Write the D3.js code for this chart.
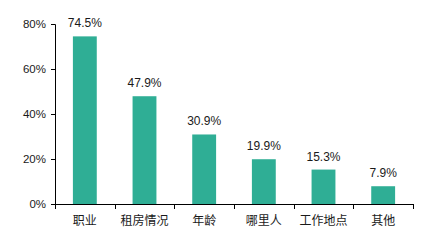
<!DOCTYPE html>
<html>
<head>
<meta charset="utf-8">
<script src="https://cdn.jsdelivr.net/npm/d3@7"></script>
<style>
  body { margin: 0; background: #fff; }
  svg text { font-family: "Liberation Sans", Arial, "Noto Sans CJK SC", sans-serif; fill: #1a1a1a; }
</style>
</head>
<body>
<svg width="446" height="246"></svg>
<script>
var categories = ["职业", "租房情况", "年龄", "哪里人", "工作地点", "其他"];
var values = [74.5, 47.9, 30.9, 19.9, 15.3, 7.9];
var yTicks = [0, 20, 40, 60, 80];

var svg = d3.select("svg");
var plotLeft = 55, plotRight = 413, plotTop = 24, plotBottom = 204;

var x = d3.scaleBand().domain(categories).range([plotLeft, plotRight]);
var y = d3.scaleLinear().domain([0, 80]).range([plotBottom, plotTop]);
var barW = x.bandwidth() * 0.4;

// bars
svg.selectAll("rect.bar")
    .data(values)
    .enter().append("rect")
    .attr("class", "bar")
    .attr("x", function(d, i) { return x(categories[i]) + (x.bandwidth() - barW) / 2; })
    .attr("y", function(d) { return y(d); })
    .attr("width", barW)
    .attr("height", function(d) { return plotBottom - y(d); })
    .style("fill", "#2fae95");

// value labels
svg.selectAll("text.val")
    .data(values)
    .enter().append("text")
    .attr("class", "val")
    .attr("x", function(d, i) { return x(categories[i]) + x.bandwidth() / 2; })
    .attr("y", function(d) { return y(d) - 9; })
    .attr("text-anchor", "middle")
    .style("font-size", "12px")
    .text(function(d) { return d.toFixed(1) + "%"; });

// y axis
var yAxis = d3.axisLeft(y).tickValues(yTicks).tickSize(4).tickPadding(5)
    .tickFormat(function(d) { return d + "%"; });
var gy = svg.append("g").attr("transform", "translate(" + plotLeft + ",0)").call(yAxis);
gy.select(".domain").attr("stroke", "#000");
gy.selectAll(".tick line").attr("stroke", "#000");
gy.selectAll("text").style("font-size", "11.5px").attr("fill", "#1a1a1a");

// x axis
var xTickPos = categories.map(function(c) { return x(c); }).concat([plotRight]);
var gx = svg.append("g");
gx.append("line")
    .attr("x1", plotLeft).attr("x2", plotRight)
    .attr("y1", plotBottom + 0.5).attr("y2", plotBottom + 0.5)
    .attr("stroke", "#000");
gx.selectAll("line.tk")
    .data(xTickPos)
    .enter().append("line")
    .attr("class", "tk")
    .attr("x1", function(d) { return Math.round(d) + 0.5; })
    .attr("x2", function(d) { return Math.round(d) + 0.5; })
    .attr("y1", plotBottom).attr("y2", plotBottom + 5)
    .attr("stroke", "#000");
gx.selectAll("text")
    .data(categories)
    .enter().append("text")
    .attr("x", function(d) { return x(d) + x.bandwidth() / 2; })
    .attr("y", 225)
    .attr("text-anchor", "middle")
    .style("font-size", "12px")
    .text(function(d) { return d; });
</script>
</body>
</html>
